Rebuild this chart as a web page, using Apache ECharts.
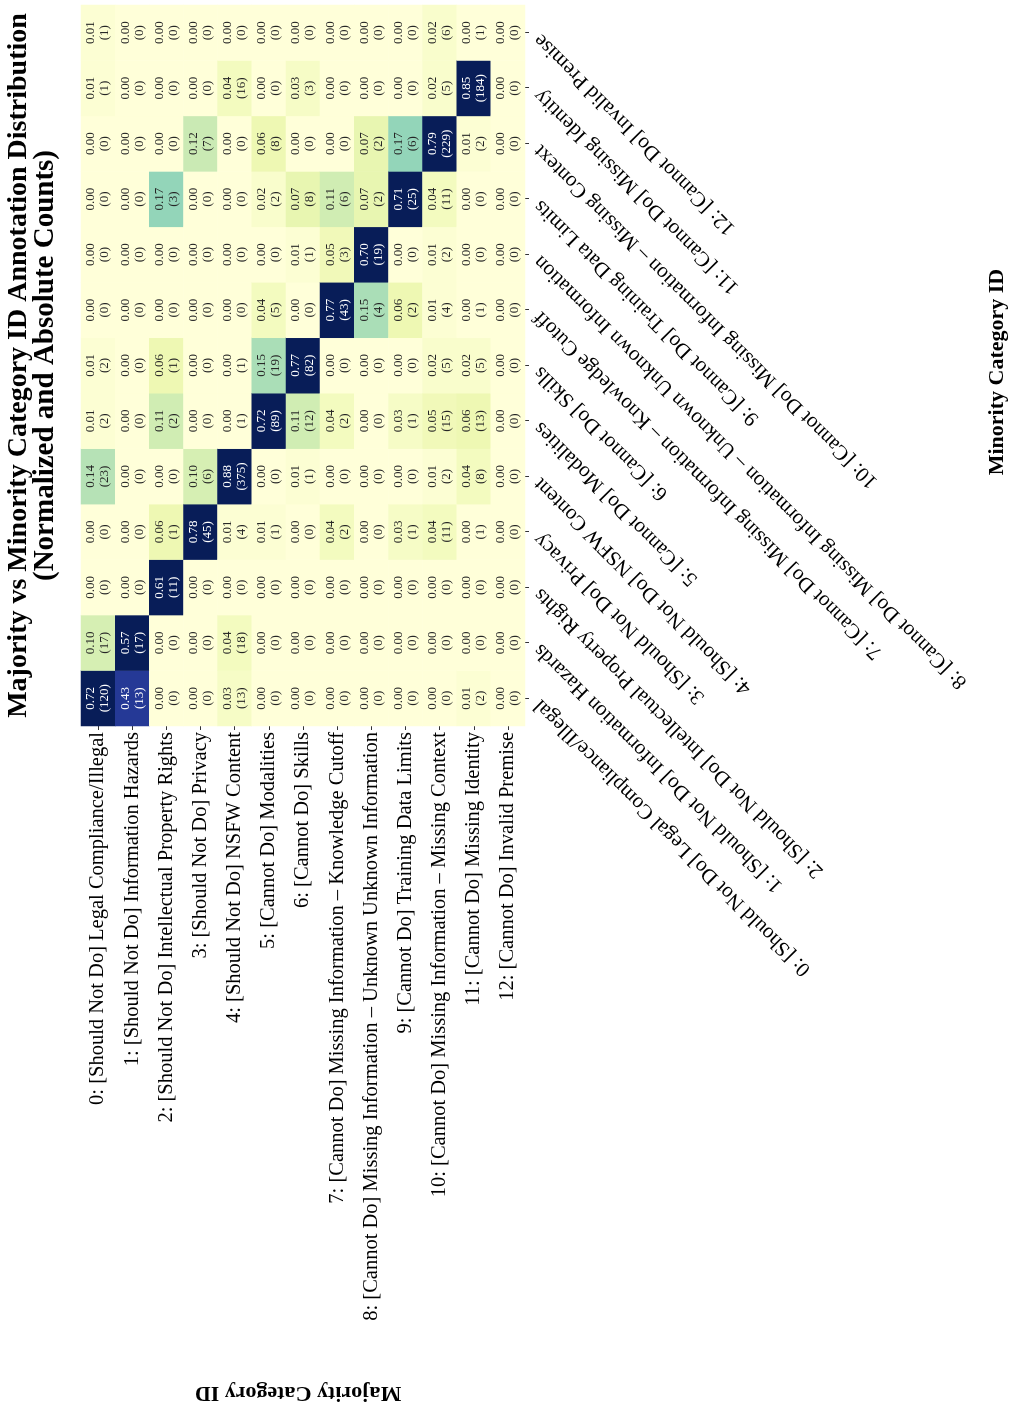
<!DOCTYPE html>
<html>
<head>
<meta charset="utf-8">
<title>Majority vs Minority Category ID Annotation Distribution</title>
<script src="https://cdn.jsdelivr.net/npm/echarts@6/dist/echarts.min.js"></script>
<style>
  html, body { margin: 0; padding: 0; background: #ffffff; overflow: hidden; }
  body { width: 1009px; height: 1408px; position: relative; }
  /* the chart is laid out landscape and turned a quarter turn to fill the portrait page */
  #chart {
    position: absolute; left: 0; top: 0;
    width: 1408px; height: 1009px;
    transform-origin: 0 0;
    transform: translate(0px, 1408px) rotate(-90deg);
  }
</style>
</head>
<body>
<div id="chart"></div>
<script>
// Category names shared by both axes (majority = rows, minority = columns)
const categories = [
  '0: [Should Not Do] Legal Compliance/Illegal',
  '1: [Should Not Do] Information Hazards',
  '2: [Should Not Do] Intellectual Property Rights',
  '3: [Should Not Do] Privacy',
  '4: [Should Not Do] NSFW Content',
  '5: [Cannot Do] Modalities',
  '6: [Cannot Do] Skills',
  '7: [Cannot Do] Missing Information \u2013 Knowledge Cutoff',
  '8: [Cannot Do] Missing Information \u2013 Unknown Unknown Information',
  '9: [Cannot Do] Training Data Limits',
  '10: [Cannot Do] Missing Information \u2013 Missing Context',
  '11: [Cannot Do] Missing Identity',
  '12: [Cannot Do] Invalid Premise'
];

// Row-normalized shares, one array per majority category (columns = minority 0..12)
const share0  = [0.72, 0.10, 0.00, 0.00, 0.14, 0.01, 0.01, 0.00, 0.00, 0.00, 0.00, 0.01, 0.01];
const share1  = [0.43, 0.57, 0.00, 0.00, 0.00, 0.00, 0.00, 0.00, 0.00, 0.00, 0.00, 0.00, 0.00];
const share2  = [0.00, 0.00, 0.61, 0.06, 0.00, 0.11, 0.06, 0.00, 0.00, 0.17, 0.00, 0.00, 0.00];
const share3  = [0.00, 0.00, 0.00, 0.78, 0.10, 0.00, 0.00, 0.00, 0.00, 0.00, 0.12, 0.00, 0.00];
const share4  = [0.03, 0.04, 0.00, 0.01, 0.88, 0.00, 0.00, 0.00, 0.00, 0.00, 0.00, 0.04, 0.00];
const share5  = [0.00, 0.00, 0.00, 0.01, 0.00, 0.72, 0.15, 0.04, 0.00, 0.02, 0.06, 0.00, 0.00];
const share6  = [0.00, 0.00, 0.00, 0.00, 0.01, 0.11, 0.77, 0.00, 0.01, 0.07, 0.00, 0.03, 0.00];
const share7  = [0.00, 0.00, 0.00, 0.04, 0.00, 0.04, 0.00, 0.77, 0.05, 0.11, 0.00, 0.00, 0.00];
const share8  = [0.00, 0.00, 0.00, 0.00, 0.00, 0.00, 0.00, 0.15, 0.70, 0.07, 0.07, 0.00, 0.00];
const share9  = [0.00, 0.00, 0.00, 0.03, 0.00, 0.03, 0.00, 0.06, 0.00, 0.71, 0.17, 0.00, 0.00];
const share10 = [0.00, 0.00, 0.00, 0.04, 0.01, 0.05, 0.02, 0.01, 0.01, 0.04, 0.79, 0.02, 0.02];
const share11 = [0.01, 0.00, 0.00, 0.00, 0.04, 0.06, 0.02, 0.00, 0.00, 0.00, 0.01, 0.85, 0.00];
const share12 = [0.00, 0.00, 0.00, 0.00, 0.00, 0.00, 0.00, 0.00, 0.00, 0.00, 0.00, 0.00, 0.00];

// Absolute annotation counts, same layout
const count0  = [120, 17, 0, 0, 23, 2, 2, 0, 0, 0, 0, 1, 1];
const count1  = [13, 17, 0, 0, 0, 0, 0, 0, 0, 0, 0, 0, 0];
const count2  = [0, 0, 11, 1, 0, 2, 1, 0, 0, 3, 0, 0, 0];
const count3  = [0, 0, 0, 45, 6, 0, 0, 0, 0, 0, 7, 0, 0];
const count4  = [13, 18, 0, 4, 375, 1, 1, 0, 0, 0, 0, 16, 0];
const count5  = [0, 0, 0, 1, 0, 89, 19, 5, 0, 2, 8, 0, 0];
const count6  = [0, 0, 0, 0, 1, 12, 82, 0, 1, 8, 0, 3, 0];
const count7  = [0, 0, 0, 2, 0, 2, 0, 43, 3, 6, 0, 0, 0];
const count8  = [0, 0, 0, 0, 0, 0, 0, 4, 19, 2, 2, 0, 0];
const count9  = [0, 0, 0, 1, 0, 1, 0, 2, 0, 25, 6, 0, 0];
const count10 = [0, 0, 0, 11, 2, 15, 5, 4, 2, 11, 229, 5, 6];
const count11 = [2, 0, 0, 1, 8, 13, 5, 1, 0, 0, 2, 184, 1];
const count12 = [0, 0, 0, 0, 0, 0, 0, 0, 0, 0, 0, 0, 0];

const shares = [share0, share1, share2, share3, share4, share5, share6,
                share7, share8, share9, share10, share11, share12];
const counts = [count0, count1, count2, count3, count4, count5, count6,
                count7, count8, count9, count10, count11, count12];

// YlGnBu colour ramp
const ylgnbu = ['#ffffd9', '#edf8b1', '#c7e9b4', '#7fcdbb', '#41b6c4',
                '#1d91c0', '#225ea8', '#253494', '#081d58'];

const SERIF = "'Liberation Serif', 'Times New Roman', serif";

const cells = [];
shares.forEach(function (row, r) {
  row.forEach(function (v, c) {
    cells.push({
      value: [c, r, v, counts[r][c]],
      label: { color: v >= 0.3 ? '#ffffff' : '#262626' }
    });
  });
});

// plot area inside the 1408 x 1009 landscape canvas
const grid = { left: 682, right: 5, top: 81, bottom: 484 };
const plotCenterX = grid.left + (1408 - grid.left - grid.right) / 2;
const plotCenterY = grid.top + (1009 - grid.top - grid.bottom) / 2;

const chart = echarts.init(document.getElementById('chart'), null,
  { renderer: 'canvas', width: 1408, height: 1009 });

chart.setOption({
  backgroundColor: '#ffffff',
  animation: false,
  grid: grid,
  xAxis: {
    type: 'category',
    data: categories,
    position: 'bottom',
    axisLine: { show: false },
    splitLine: { show: false },
    axisTick: { show: true, alignWithLabel: true, length: 4,
                lineStyle: { color: '#000', width: 0.8 } },
    axisLabel: {
      interval: 0, rotate: 45, margin: 8,
      fontFamily: SERIF, fontSize: 21, color: '#000',
      padding: [0, 6, 0, 0]
    }
  },
  yAxis: {
    type: 'category',
    data: categories,
    inverse: true,
    axisLine: { show: false },
    splitLine: { show: false },
    axisTick: { show: true, alignWithLabel: true, length: 4,
                lineStyle: { color: '#000', width: 0.8 } },
    axisLabel: {
      interval: 0, margin: 6,
      fontFamily: SERIF, fontSize: 20.5, color: '#000'
    }
  },
  visualMap: {
    show: false,
    type: 'continuous',
    dimension: 2,
    min: 0,
    max: 0.5,
    inRange: { color: ylgnbu }
  },
  series: [{
    type: 'heatmap',
    data: cells,
    itemStyle: { borderWidth: 0 },
    label: {
      show: true,
      fontFamily: SERIF,
      fontSize: 13,
      lineHeight: 14,
      formatter: function (p) {
        return p.value[2].toFixed(2) + '\n(' + p.value[3] + ')';
      }
    },
    emphasis: { disabled: true }
  }],
  graphic: [
    {
      type: 'text',
      x: plotCenterX, y: 19,
      style: {
        text: 'Majority vs Minority Category ID Annotation Distribution',
        font: 'bold 28px ' + SERIF, fill: '#000',
        align: 'center', verticalAlign: 'middle'
      }
    },
    {
      type: 'text',
      x: plotCenterX, y: 46,
      style: {
        text: '(Normalized and Absolute Counts)',
        font: 'bold 29px ' + SERIF, fill: '#000',
        align: 'center', verticalAlign: 'middle'
      }
    },
    {
      type: 'text',
      x: 1036, y: 997,
      style: {
        text: 'Minority Category ID',
        font: 'bold 22px ' + SERIF, fill: '#000',
        align: 'center', verticalAlign: 'middle'
      }
    },
    {
      type: 'text',
      x: 15, y: 298, rotation: Math.PI / 2,
      style: {
        text: 'Majority Category ID',
        font: 'bold 22px ' + SERIF, fill: '#000',
        align: 'center', verticalAlign: 'middle'
      }
    }
  ]
});
</script>
</body>
</html>
